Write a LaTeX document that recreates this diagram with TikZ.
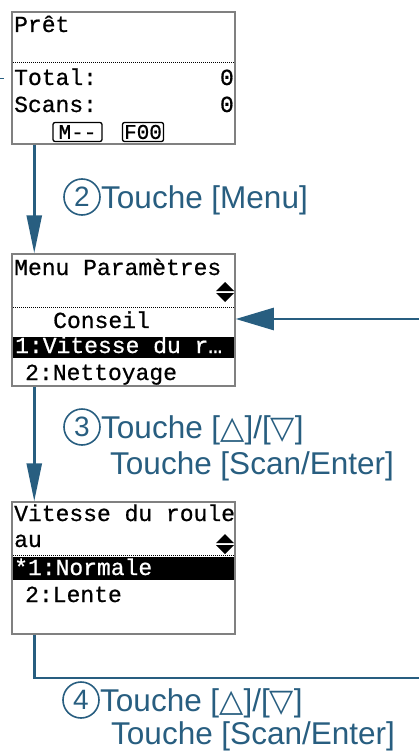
\documentclass[tikz,border=0pt]{standalone}
\usepackage{fontspec}
\setmainfont{Liberation Sans}
\newfontfamily\lcdfont[FakeBold=0.7]{Liberation Mono}
\newfontfamily\symfont{DejaVu Sans}
\definecolor{stepblue}{RGB}{40,94,128}
\usetikzlibrary{arrows.meta,positioning,calc}

\begin{document}
\begin{tikzpicture}[x=1pt,y=-1pt,
  screen/.style={draw=black!50, line width=1.5pt, minimum width=223pt, minimum height=132pt, inner sep=0pt},
  lcd/.style={anchor=base west, inner sep=0pt, font=\lcdfont\fontsize{23}{23}\selectfont},
  lcdr/.style={lcd, anchor=base east},
  btn/.style={draw, rounded corners=2pt, line width=1.3pt, minimum height=19pt, inner sep=0pt, font=\lcdfont\fontsize{21}{21}\selectfont},
  sep/.style={line width=1pt, dash pattern=on 1pt off 1pt},
  flow/.style={draw=stepblue, line width=2.6pt, -{Triangle[length=38pt,width=15pt]}},
  back/.style={draw=stepblue, line width=2.6pt, -{Triangle[length=38pt,width=22pt]}},
  num/.style={circle, draw=stepblue, line width=1.6pt, minimum size=36pt, inner sep=0pt, text=stepblue, font=\fontsize{28}{28}\selectfont},
  lbl/.style={anchor=base west, inner sep=0pt, text=stepblue, font=\fontsize{31.5}{31.5}\selectfont}
]
  \useasboundingbox (0,0) rectangle (419,754);

  % ready screen
  \node[screen] (s1) at (123.5,78) {};
  \draw[sep] (13,63) -- (234,63);
  \node[lcd] (ready) at (14,32) {Prêt};
  \node[lcd] (total) at (14,85) {Total:};
  \node[lcdr] (totalv) at (234,85) {0};
  \node[lcd] (scans) at (14,112) {Scans:};
  \node[lcdr] (scansv) at (234,112) {0};
  \node[btn, minimum width=49pt] (mode) at (77.5,132) {M-{}-};
  \node[btn, minimum width=41pt] (func) at (143,132) {F00};
  \coordinate (in1) at (0,79);
  \draw[stepblue, line width=1pt] (in1) -- ++(4,0);

  % settings menu
  \node[screen] (s2) at (123.5,320) {};
  \node[lcd] (menu) at (14,275) {Menu Paramètres};
  \fill (216,291) -- (225,282) -- (234,291) -- cycle;
  \fill (216,293) -- (225,302) -- (234,293) -- cycle;
  \draw[sep] (13,307) -- (234,307);
  \node[lcd] (tip) at (53,328) {Conseil};
  \fill (13,337) rectangle (234,358);
  \node[lcd, text=white] (speed) at (15,353) {1:Vitesse du r…};
  \node[lcd] (clean) at (25,380) {2:Nettoyage};

  % roller speed
  \node[screen] (s3) at (123.5,568) {};
  \node[lcd] (title) at (14,521) {Vitesse du roule};
  \node[lcd] (title2) at (14,547) {au};
  \fill (216,543) -- (225,534) -- (234,543) -- cycle;
  \fill (216,545) -- (225,554) -- (234,545) -- cycle;
  \draw[sep] (13,555) -- (234,555);
  \fill (13,557) rectangle (234,580);
  \node[lcd, text=white] (normal) at (14,575) {*1:Normale};
  \node[lcd] (slow) at (25,602) {2:Lente};

  % connectors
  \coordinate (ret) at (419,319);
  \coordinate (out) at (419,678);
  \draw[flow] ([xshift=23pt]s1.south west) -- ([xshift=23pt]s2.north west);
  \draw[flow] ([xshift=23pt]s2.south west) -- ([xshift=23pt]s3.north west);
  \draw[back] (ret) -- (s2.east |- ret);
  \draw[stepblue, line width=2.6pt] ([xshift=23pt]s3.south west) |- (out);

  % key labels
  \node[num] (n2) at (82,197) {2};
  \node[lbl] (t2) at (101,208) {Touche [Menu]};
  \node[num] (n3) at (82,427) {3};
  \node[lbl] (t3) at (101,438) {Touche [{\symfont △}]/[{\symfont ▽}]};
  \node[lbl] (t3b) at (110,474) {Touche [Scan/Enter]};
  \node[num] (n4) at (81,700) {4};
  \node[lbl] (t4) at (100,711) {Touche [{\symfont △}]/[{\symfont ▽}]};
  \node[lbl] (t4b) at (111,744) {Touche [Scan/Enter]};
\end{tikzpicture}
\end{document}
